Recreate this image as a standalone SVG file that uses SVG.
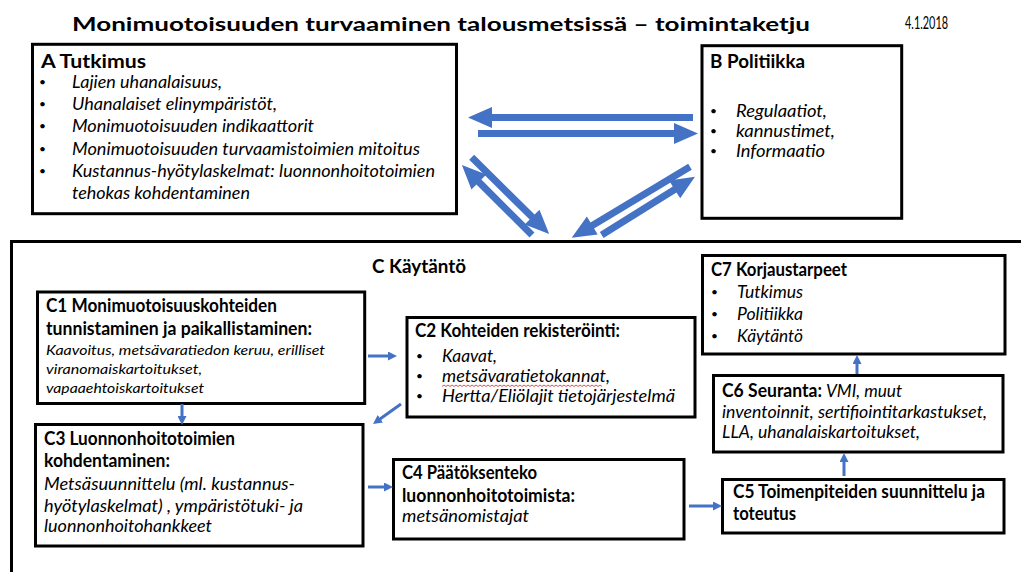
<svg xmlns="http://www.w3.org/2000/svg" width="1021" height="572" viewBox="0 0 1021 572">
<defs>
<style>
.box{fill:#fff;stroke:#000;stroke-width:3}
.t{font-family:Lato,"Liberation Sans",sans-serif;font-size:18px;fill:#000}
.b{font-weight:bold}
.i{font-style:italic}
.s13{font-size:14px}
.bu{font-family:Lato,"Liberation Sans",sans-serif;font-size:12px;fill:#000}
.big{fill:#4472C4}
.sm{stroke:#4472C4;stroke-width:3;fill:none;marker-end:url(#ah)}
</style>
<marker id="ah" markerUnits="userSpaceOnUse" markerWidth="9" markerHeight="9" viewBox="0 0 9 9" refX="3" refY="4.5" orient="auto">
<path d="M0,0 L9,4.5 L0,9 Z" fill="#4472C4"/>
</marker>
</defs>
<rect width="1021" height="572" fill="#fff"/>

<g id="title">
<text class="t b" x="72" y="31" font-size="31" textLength="738" lengthAdjust="spacingAndGlyphs">Monimuotoisuuden turvaaminen talousmetsissä – toimintaketju</text>
<text class="t" x="905" y="29" font-size="11" textLength="43" lengthAdjust="spacingAndGlyphs">4.1.2018</text>
</g>

<g id="nodeA">
<rect class="box" x="32.5" y="44.3" width="424" height="169.4"/>
<text class="t b" x="41" y="68" textLength="105" lengthAdjust="spacingAndGlyphs">A Tutkimus</text>
<text class="bu" x="39" y="86">•</text>
<text class="bu" x="39" y="108">•</text>
<text class="bu" x="39" y="130">•</text>
<text class="bu" x="39" y="153">•</text>
<text class="bu" x="39" y="175">•</text>
<text class="t i" x="72" y="88" textLength="150" lengthAdjust="spacingAndGlyphs">Lajien uhanalaisuus,</text>
<text class="t i" x="72" y="110" textLength="205" lengthAdjust="spacingAndGlyphs">Uhanalaiset elinympäristöt,</text>
<text class="t i" x="72" y="132" textLength="242" lengthAdjust="spacingAndGlyphs">Monimuotoisuuden indikaattorit</text>
<text class="t i" x="72" y="155" textLength="348" lengthAdjust="spacingAndGlyphs">Monimuotoisuuden turvaamistoimien mitoitus</text>
<text class="t i" x="72" y="177" textLength="363" lengthAdjust="spacingAndGlyphs">Kustannus-hyötylaskelmat: luonnonhoitotoimien</text>
<text class="t i" x="72" y="199" textLength="178" lengthAdjust="spacingAndGlyphs">tehokas kohdentaminen</text>
</g>

<g id="nodeB">
<rect class="box" x="702" y="45.7" width="199.7" height="172.6"/>
<text class="t b" x="710" y="68" textLength="95" lengthAdjust="spacingAndGlyphs">B Politiikka</text>
<text class="bu" x="710" y="115">•</text>
<text class="bu" x="710" y="135">•</text>
<text class="bu" x="710" y="155">•</text>
<text class="t i" x="736" y="117" textLength="91" lengthAdjust="spacingAndGlyphs">Regulaatiot,</text>
<text class="t i" x="736" y="137" textLength="99" lengthAdjust="spacingAndGlyphs">kannustimet,</text>
<text class="t i" x="736" y="157" textLength="89" lengthAdjust="spacingAndGlyphs">Informaatio</text>
</g>

<g id="containerC">
<path d="M11.5,575 V241.5 H1025" fill="none" stroke="#000" stroke-width="3"/>
<text class="t b" x="372" y="273" textLength="94" lengthAdjust="spacingAndGlyphs">C Käytäntö</text>
</g>

<g id="C1">
<rect class="box" x="37.5" y="292" width="327.2" height="111.5"/>
<text class="t b" x="46" y="312" textLength="231" lengthAdjust="spacingAndGlyphs">C1 Monimuotoisuuskohteiden</text>
<text class="t b" x="46" y="335" textLength="266" lengthAdjust="spacingAndGlyphs">tunnistaminen ja paikallistaminen:</text>
<text class="t i s13" x="46" y="355" textLength="279" lengthAdjust="spacingAndGlyphs">Kaavoitus, metsävaratiedon keruu, erilliset</text>
<text class="t i s13" x="46" y="374" textLength="156" lengthAdjust="spacingAndGlyphs">viranomaiskartoitukset,</text>
<text class="t i s13" x="46" y="393" textLength="158" lengthAdjust="spacingAndGlyphs">vapaaehtoiskartoitukset</text>
</g>

<g id="C2">
<rect class="box" x="407" y="317.5" width="288" height="99.5"/>
<text class="t b" x="415" y="337" textLength="205" lengthAdjust="spacingAndGlyphs">C2 Kohteiden rekisteröinti:</text>
<text class="bu" x="416" y="360">•</text>
<text class="bu" x="416" y="380">•</text>
<text class="bu" x="416" y="400">•</text>
<text class="t i" x="442" y="362" textLength="55" lengthAdjust="spacingAndGlyphs">Kaavat,</text>
<text class="t i" x="442" y="382" textLength="168" lengthAdjust="spacingAndGlyphs">metsävaratietokannat,</text>
<path d="M442,386.5 l2,-1.5 l2,1.5 l2,-1.5 l2,1.5 l2,-1.5 l2,1.5 l2,-1.5 l2,1.5 l2,-1.5 l2,1.5 l2,-1.5 l2,1.5 l2,-1.5 l2,1.5 l2,-1.5 l2,1.5 l2,-1.5 l2,1.5 l2,-1.5 l2,1.5 l2,-1.5 l2,1.5 l2,-1.5 l2,1.5 l2,-1.5 l2,1.5 l2,-1.5 l2,1.5 l2,-1.5 l2,1.5 l2,-1.5 l2,1.5 l2,-1.5 l2,1.5 l2,-1.5 l2,1.5 l2,-1.5 l2,1.5 l2,-1.5 l2,1.5 l2,-1.5 l2,1.5 l2,-1.5 l2,1.5 l2,-1.5 l2,1.5 l2,-1.5 l2,1.5 l2,-1.5 l2,1.5 l2,-1.5 l2,1.5 l2,-1.5 l2,1.5 l2,-1.5 l2,1.5 l2,-1.5 l2,1.5 l2,-1.5 l2,1.5 l2,-1.5 l2,1.5 l2,-1.5 l2,1.5 l2,-1.5 l2,1.5 l2,-1.5 l2,1.5 l2,-1.5 l2,1.5 l2,-1.5 l2,1.5 l2,-1.5 l2,1.5 l2,-1.5 l2,1.5 l2,-1.5 l2,1.5 l2,-1.5 l2,1.5" fill="none" stroke="#e04040" stroke-width="0.9"/>
<text class="t i" x="442" y="402" textLength="233" lengthAdjust="spacingAndGlyphs">Hertta/Eliölajit tietojärjestelmä</text>
</g>

<g id="C3">
<rect class="box" x="35.5" y="424.5" width="327.5" height="121.5"/>
<text class="t b" x="44" y="445" textLength="191" lengthAdjust="spacingAndGlyphs">C3 Luonnonhoitotoimien</text>
<text class="t b" x="44" y="467" textLength="126" lengthAdjust="spacingAndGlyphs">kohdentaminen:</text>
<text class="t i" x="44" y="490" textLength="251" lengthAdjust="spacingAndGlyphs">Metsäsuunnittelu (ml. kustannus-</text>
<text class="t i" x="44" y="512" textLength="259" lengthAdjust="spacingAndGlyphs">hyötylaskelmat) , ympäristötuki- ja</text>
<text class="t i" x="44" y="532" textLength="168" lengthAdjust="spacingAndGlyphs">luonnonhoitohankkeet</text>
</g>

<g id="C4">
<rect class="box" x="393.5" y="459.5" width="290.5" height="79.5"/>
<text class="t b" x="402" y="479" textLength="135" lengthAdjust="spacingAndGlyphs">C4 Päätöksenteko</text>
<text class="t b" x="402" y="502" textLength="173" lengthAdjust="spacingAndGlyphs">luonnonhoitotoimista:</text>
<text class="t i" x="402" y="522" textLength="127" lengthAdjust="spacingAndGlyphs">metsänomistajat</text>
</g>

<g id="C5">
<rect class="box" x="722.5" y="479.5" width="281.5" height="53.5"/>
<text class="t b" x="733" y="498" textLength="252" lengthAdjust="spacingAndGlyphs">C5 Toimenpiteiden suunnittelu ja</text>
<text class="t b" x="733" y="520" textLength="63" lengthAdjust="spacingAndGlyphs">toteutus</text>
</g>

<g id="C6">
<rect class="box" x="713.5" y="375.5" width="289.5" height="76.5"/>
<text class="t" y="397"><tspan class="b" x="722" textLength="100" lengthAdjust="spacingAndGlyphs">C6 Seuranta:</tspan><tspan class="i" x="826" textLength="76" lengthAdjust="spacingAndGlyphs">VMI, muut</tspan></text>
<text class="t i" x="722" y="418" textLength="265" lengthAdjust="spacingAndGlyphs">inventoinnit, sertifiointitarkastukset,</text>
<text class="t i" x="722" y="438" textLength="198" lengthAdjust="spacingAndGlyphs">LLA, uhanalaiskartoitukset,</text>
</g>

<g id="C7">
<rect class="box" x="702.5" y="255.5" width="302.5" height="98.5"/>
<text class="t b" x="711" y="276" textLength="136" lengthAdjust="spacingAndGlyphs">C7 Korjaustarpeet</text>
<text class="bu" x="711" y="296">•</text>
<text class="bu" x="711" y="318">•</text>
<text class="bu" x="711" y="340">•</text>
<text class="t i" x="737" y="298" textLength="66" lengthAdjust="spacingAndGlyphs">Tutkimus</text>
<text class="t i" x="737" y="320" textLength="66" lengthAdjust="spacingAndGlyphs">Politiikka</text>
<text class="t i" x="737" y="342" textLength="66" lengthAdjust="spacingAndGlyphs">Käytäntö</text>
</g>

<g id="connectors">
<path class="big" transform="translate(693,117.5) rotate(180)" d="M0,-3.5 H201 V-10.5 L225,0 L201,10.5 V3.5 H0 Z"/>
<path class="big" transform="translate(478,133.5)" d="M0,-3.5 H196 V-10.5 L220,0 L196,10.5 V3.5 H0 Z"/>
<path class="big" transform="translate(471.7,157.3) rotate(44.7)" d="M0,-3.5 H85 V-10.5 L109,0 L85,10.5 V3.5 H0 Z"/>
<path class="big" transform="translate(532,235) rotate(224.9)" d="M0,-3.5 H75 V-10.5 L99,0 L75,10.5 V3.5 H0 Z"/>
<path class="big" transform="translate(690,166.7) rotate(149)" d="M0,-3.5 H114 V-10.5 L138,0 L114,10.5 V3.5 H0 Z"/>
<path class="big" transform="translate(601.7,235) rotate(-32)" d="M0,-3.5 H86 V-10.5 L110,0 L86,10.5 V3.5 H0 Z"/>
<line class="sm" x1="368" y1="356" x2="391" y2="356"/>
<line class="sm" x1="182" y1="404" x2="182" y2="419"/>
<line class="sm" x1="401" y1="404" x2="377.9" y2="420.5"/>
<line class="sm" x1="368" y1="487" x2="387" y2="487"/>
<line class="sm" x1="689" y1="506" x2="716" y2="506"/>
<line class="sm" x1="844" y1="476" x2="844" y2="459"/>
<line class="sm" x1="857" y1="374" x2="857" y2="361"/>
</g>
</svg>
